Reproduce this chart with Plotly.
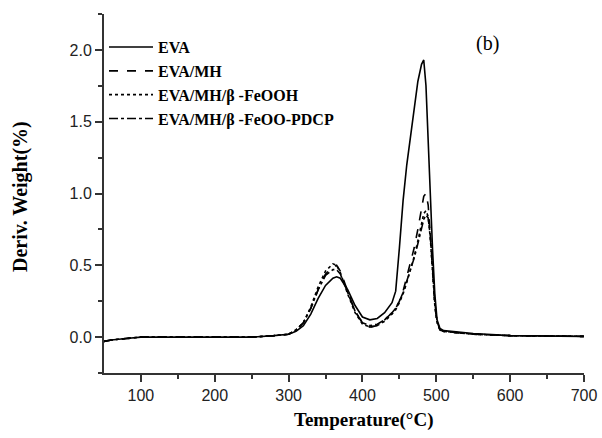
import plotly.graph_objects as go

temperature = [50, 60, 80, 100, 150, 200, 250, 280, 300, 310, 320, 330, 340, 350, 360, 365, 370, 380, 390,
               400, 410, 420, 430, 440, 445, 450, 455, 460, 465, 470, 475, 480, 483, 486, 489, 492, 495,
               498, 501, 505, 510, 520, 530, 550, 600, 650, 700]

eva = [-0.03, -0.02, -0.01, 0.0, 0.0, 0.0, 0.0, 0.01, 0.02, 0.04, 0.08, 0.16, 0.27, 0.36, 0.41, 0.42, 0.41,
       0.33, 0.22, 0.14, 0.12, 0.13, 0.17, 0.24, 0.32, 0.62, 0.95, 1.20, 1.40, 1.60, 1.78, 1.90, 1.93, 1.75,
       1.35, 0.95, 0.60, 0.30, 0.12, 0.06, 0.045, 0.04, 0.035, 0.025, 0.01, 0.005, 0.005]

eva_mh = [-0.03, -0.02, -0.01, 0.0, 0.0, 0.0, 0.0, 0.01, 0.02, 0.05, 0.10, 0.20, 0.33, 0.44, 0.49, 0.50, 0.46,
          0.32, 0.18, 0.10, 0.07, 0.08, 0.12, 0.17, 0.20, 0.25, 0.32, 0.42, 0.52, 0.62, 0.75, 0.90, 0.98, 1.00,
          0.92, 0.70, 0.45, 0.22, 0.10, 0.05, 0.04, 0.035, 0.03, 0.02, 0.01, 0.005, 0.005]

eva_mh_feooh = [-0.03, -0.02, -0.01, 0.0, 0.0, 0.0, 0.0, 0.01, 0.02, 0.05, 0.10, 0.21, 0.35, 0.46, 0.51, 0.50, 0.45,
                0.30, 0.17, 0.09, 0.07, 0.08, 0.11, 0.16, 0.19, 0.24, 0.30, 0.38, 0.47, 0.56, 0.67, 0.80, 0.86, 0.88,
                0.84, 0.68, 0.45, 0.22, 0.10, 0.05, 0.04, 0.035, 0.03, 0.02, 0.01, 0.005, 0.005]

eva_mh_feoo_pdcp = [-0.03, -0.02, -0.01, 0.0, 0.0, 0.0, 0.0, 0.01, 0.02, 0.05, 0.10, 0.20, 0.33, 0.43, 0.47, 0.47, 0.44,
                    0.31, 0.18, 0.10, 0.08, 0.09, 0.12, 0.17, 0.20, 0.25, 0.31, 0.39, 0.47, 0.55, 0.65, 0.76, 0.82, 0.85,
                    0.83, 0.70, 0.48, 0.24, 0.11, 0.05, 0.04, 0.035, 0.03, 0.02, 0.01, 0.005, 0.005]

series = [
    ("EVA", eva, "solid"),
    ("EVA/MH", eva_mh, "dash"),
    ("EVA/MH/β -FeOOH", eva_mh_feooh, "dot"),
    ("EVA/MH/β -FeOO-PDCP", eva_mh_feoo_pdcp, "dashdot"),
]

x_ticks = [100, 200, 300, 400, 500, 600, 700]
y_ticks = [0.0, 0.5, 1.0, 1.5, 2.0]

fig = go.Figure()
for name, vals, dash in series:
    fig.add_trace(go.Scatter(x=temperature, y=vals, mode="lines", name=f"<b>{name}</b>",
                             line=dict(color="black", width=1.6, dash=dash)))

fig.update_layout(
    width=602, height=438,
    margin=dict(l=104, r=18, t=14, b=65),
    plot_bgcolor="white", paper_bgcolor="white",
    showlegend=True,
    legend=dict(x=0.0, y=0.955, xanchor="left", yanchor="top",
                font=dict(family="Liberation Serif", size=16, color="black"),
                bgcolor="rgba(0,0,0,0)", tracegroupgap=0, itemwidth=44),
    annotations=[
        dict(text="(b)", x=0.798, y=0.919, xref="paper", yref="paper", showarrow=False,
             xanchor="center", yanchor="middle",
             font=dict(family="Liberation Serif", size=20, color="black")),
        dict(text="<b>Temperature(°C)</b>", x=364, y=420, xref="x domain", yref="paper",
             showarrow=False, visible=False),
    ],
)

# axis titles placed as annotations to match the reference positions
fig.layout.annotations = fig.layout.annotations[:1]
fig.add_annotation(text="<b>Temperature(°C)</b>", x=(364 - 104) / 480, y=-(420 - 373) / 359,
                   xref="paper", yref="paper", showarrow=False, xanchor="center", yanchor="middle",
                   font=dict(family="Liberation Serif", size=19, color="black"))
fig.add_annotation(text="<b>Deriv. Weight(%)</b>", x=-(104 - 20) / 480, y=(373 - 197) / 359,
                   xref="paper", yref="paper", showarrow=False, xanchor="center", yanchor="middle",
                   textangle=-90, font=dict(family="Liberation Serif", size=20, color="black"))

fig.update_xaxes(range=[50, 700], tickvals=x_ticks, ticktext=[str(v) for v in x_ticks],
                 ticks="outside", ticklen=7, tickwidth=2, tickcolor="#333", automargin=False,
                 minor=dict(tickvals=[150, 250, 350, 450, 550, 650], ticks="outside", ticklen=4, tickwidth=2, tickcolor="#333"),
                 showline=True, linewidth=2, linecolor="#333", showgrid=False, zeroline=False,
                 tickfont=dict(family="Liberation Sans", size=16, color="#222"))

fig.update_yaxes(range=[-0.25, 2.25], tickvals=y_ticks, ticktext=[f"{v:.1f}" for v in y_ticks],
                 ticks="outside", ticklen=7, tickwidth=2, tickcolor="#333", automargin=False,
                 minor=dict(tickvals=[-0.25, 0.25, 0.75, 1.25, 1.75, 2.25], ticks="outside", ticklen=4, tickwidth=2, tickcolor="#333"),
                 showline=True, linewidth=2, linecolor="#333", showgrid=False, zeroline=False,
                 tickfont=dict(family="Liberation Sans", size=16, color="#222"))

fig.write_html("out.html")
